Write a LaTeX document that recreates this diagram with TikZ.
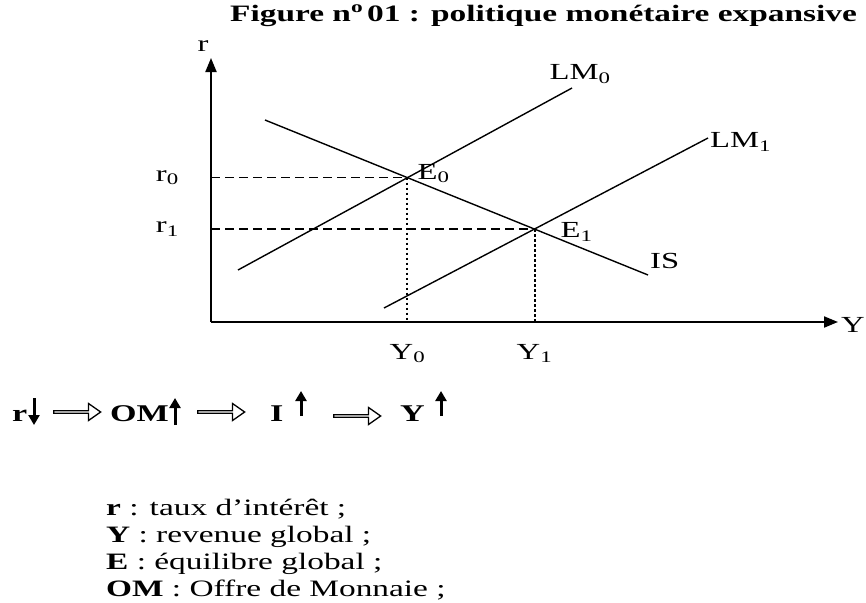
\documentclass[tikz,border=0pt]{standalone}
\usepackage{fontspec}
\setmainfont{Liberation Serif}[FakeStretch=1.42]
\usetikzlibrary{arrows.meta,positioning,shapes.arrows}
\tikzset{
  axis/.style={line width=2pt, -{Triangle[length=14pt,width=11pt]}},
  curve/.style={line width=1.4pt},
  guide/.style={line width=1.2pt, dash pattern=on 9pt off 5pt},
  drop/.style={line width=2pt, dash pattern=on 2.5pt off 2.5pt},
  lbl/.style={font=\fontsize{23}{26}\selectfont, inner sep=0pt},
  heading/.style={font=\fontsize{23.5}{28}\selectfont\bfseries, inner sep=0pt, anchor=west},
  chain/.style={font=\fontsize{24}{26}\selectfont\bfseries, inner sep=0pt, anchor=base west},
  glyph/.style={line width=3pt, -{Triangle[length=10pt,width=11pt]}},
  hollow/.style={single arrow, draw, line width=1.3pt, fill=white,
                 minimum height=47pt, minimum width=17pt,
                 single arrow head extend=4pt, single arrow tip angle=70,
                 inner sep=0pt, anchor=west},
  legend/.style={font=\fontsize{23.5}{26}\selectfont, inner sep=0pt, anchor=base west}
}
\begin{document}
\begin{tikzpicture}[x=1pt, y=-1pt]
  \useasboundingbox (0,0) rectangle (866,602);
  \node[heading] (title) at (230,16) {Figure n\textsuperscript{o}\,01 : politique monétaire expansive};

  % axes
  \coordinate (O) at (211,322);
  \coordinate (rtop) at (211,58);
  \coordinate (ytip) at (838,322);
  \draw[axis] (O) -- (rtop);
  \draw[axis] (O) -- (ytip);
  \node[lbl] (rlab) at (203,46) {r};
  \node[lbl, anchor=east] (ylab) at (865,325) {Y};

  % LM and IS curves
  \coordinate (lm0a) at (238,270);
  \coordinate (lm0b) at (572,88);
  \coordinate (lm1a) at (384,308);
  \coordinate (lm1b) at (708,138);
  \coordinate (isa) at (265,120);
  \coordinate (isb) at (648,275);
  \draw[curve] (lm0a) -- (lm0b);
  \draw[curve] (lm1a) -- (lm1b);
  \draw[curve] (isa) -- (isb);
  \node[lbl, anchor=south] (lm0) at ([xshift=8pt,yshift=4pt]lm0b) {LM\textsubscript{0}};
  \node[lbl, anchor=west] (lm1) at ([xshift=2pt,yshift=-4pt]lm1b) {LM\textsubscript{1}};
  \node[lbl, anchor=south west] (is) at ([xshift=2pt,yshift=6pt]isb) {IS};

  % equilibria
  \coordinate (E0) at (intersection of lm0a--lm0b and isa--isb);
  \coordinate (E1) at (intersection of lm1a--lm1b and isa--isb);
  \coordinate (r0pt) at (E0 -| O);
  \coordinate (r1pt) at (E1 -| O);
  \coordinate (y0pt) at (E0 |- O);
  \coordinate (y1pt) at (E1 |- O);
  \draw[guide] (r0pt) -- (E0);
  \draw[guide] (r1pt) -- (E1);
  \draw[drop] (E0) -- (y0pt);
  \draw[drop] (E1) -- (y1pt);
  \node[lbl, anchor=west] (e0) at ([xshift=10pt,yshift=4pt]E0) {E\textsubscript{0}};
  \node[lbl, anchor=west] (e1) at ([xshift=26pt,yshift=-3pt]E1) {E\textsubscript{1}};
  \node[lbl, left=32pt of r0pt] (r0) {r\textsubscript{0}};
  \node[lbl, left=32pt of r1pt] (r1) {r\textsubscript{1}};
  \node[lbl, below=22pt of y0pt] (y0) {Y\textsubscript{0}};
  \node[lbl, below=22pt of y1pt] (y1) {Y\textsubscript{1}};

  % transmission chain
  \node[chain] (rtxt) at (12,421) {r};
  \node[hollow] (imp1) at (53,412) {};
  \node[chain] (omtxt) at (110,421) {OM};
  \node[hollow] (imp2) at (197,412) {};
  \node[chain] (itxt) at (270,421) {I};
  \node[hollow] (imp3) at (333,416) {};
  \node[chain] (ytxt) at (400,421) {Y};
  \draw[glyph] ([xshift=22pt,yshift=23pt]rtxt.base west) -- ([xshift=22pt,yshift=-4pt]rtxt.base west);
  \draw[glyph] ([xshift=65pt,yshift=-4pt]omtxt.base west) -- ([xshift=65pt,yshift=23pt]omtxt.base west);
  \draw[glyph] ([xshift=31pt,yshift=5pt]itxt.base west) -- ([xshift=31pt,yshift=30pt]itxt.base west);
  \draw[glyph] ([xshift=41pt,yshift=5pt]ytxt.base west) -- ([xshift=41pt,yshift=30pt]ytxt.base west);

  % legend
  \node[legend] (leg1) at (106,515) {\textbf{r} : taux d’intérêt ;};
  \node[legend] (leg2) at (106,542) {\textbf{Y} : revenue global ;};
  \node[legend] (leg3) at (106,569) {\textbf{E} : équilibre global ;};
  \node[legend] (leg4) at (106,596) {\textbf{OM} : Offre de Monnaie ;};
\end{tikzpicture}
\end{document}
